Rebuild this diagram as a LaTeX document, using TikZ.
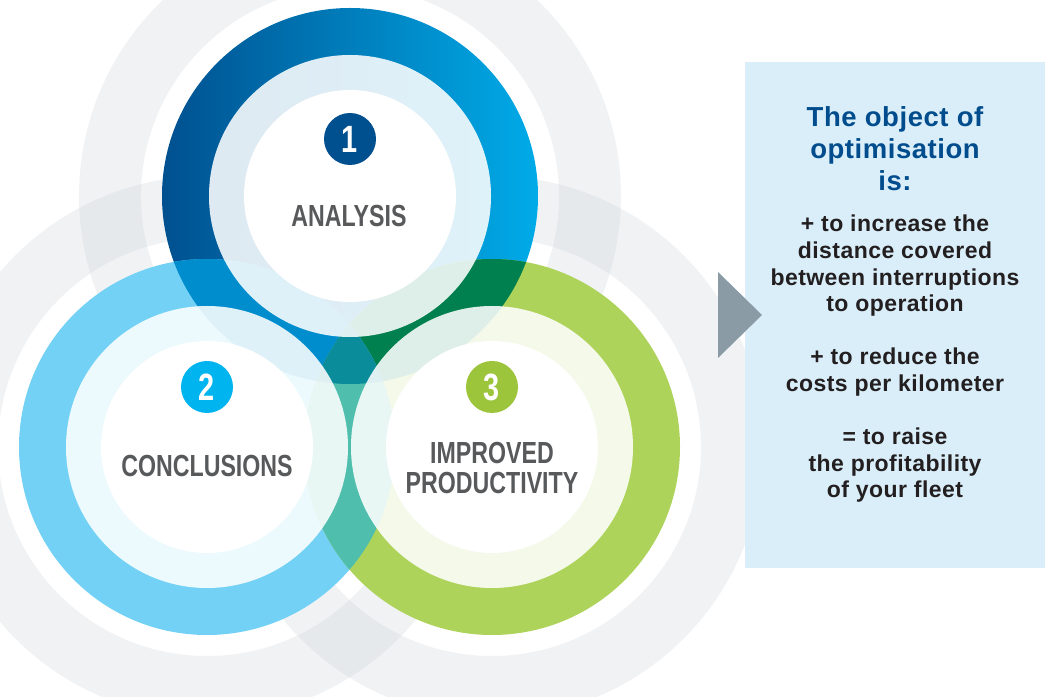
\documentclass[tikz,border=0pt]{standalone}
\usepackage{fontspec}
\setmainfont{Liberation Sans}
\newfontfamily\condsf[FakeStretch=0.76]{Liberation Sans}
\newfontfamily\boxsf[LetterSpace=2]{Liberation Sans}
\usepackage{tikz}
\usetikzlibrary{calc}
\usepackage{tkz-euclide}

\definecolor{ringgrey}{HTML}{C3CAD2}
\definecolor{blueL}{HTML}{00508F}
\definecolor{blueR}{HTML}{00ABE8}
\definecolor{skyblue}{HTML}{73D1F6}
\definecolor{limegreen}{HTML}{AED35A}
\definecolor{ovAB}{HTML}{008DCD}
\definecolor{ovAC}{HTML}{00804F}
\definecolor{ovBC}{HTML}{4FBEAD}
\definecolor{ovABC}{HTML}{0A8C9B}
\definecolor{badgeA}{HTML}{004F8F}
\definecolor{badgeB}{HTML}{00B5EF}
\definecolor{badgeC}{HTML}{9CC53C}
\definecolor{labelgrey}{HTML}{58595B}
\definecolor{boxblue}{HTML}{D9EEF9}
\definecolor{titleblue}{HTML}{004C8C}
\definecolor{bodyblack}{HTML}{231F20}
\definecolor{arrowgrey}{HTML}{8A9BA5}

\begin{document}
\begin{tikzpicture}[x=1pt,y=1pt,
        greyring/.style={fill=ringgrey,fill opacity=0.24,even odd rule},
        lightband/.style={fill=white,fill opacity=0.87},
        badge/.style={circle,minimum size=52pt,inner sep=0pt,text=white,
            font=\condsf\bfseries\fontsize{38}{38}\selectfont},
        stage/.style={text=labelgrey,align=center,
            font=\condsf\bfseries\fontsize{30.5}{30}\selectfont}]
        \useasboundingbox (0,0) rectangle (1049,696);
        \tkzDefPoints{350/500/A,207/249/B,492/249/C}
        \tkzDefPoints{350/557/a,207/309/b,492/309/c}
        \tkzDefPoints{718/424/T1,762/381/T2,718/338/T3}

        % grey halos
        \foreach \P in {A,B,C} \fill[greyring] (\P) circle (271) circle (209);

        % coloured discs and their overlaps
        \shade[left color=blueL,right color=blueR] (A) circle (188);
        \fill[skyblue] (B) circle (188);
        \fill[limegreen] (C) circle (188);
        \begin{scope} \clip (A) circle (188); \fill[ovAB] (B) circle (188); \fill[ovAC] (C) circle (188); \end{scope}
        \begin{scope} \clip (B) circle (188); \fill[ovBC] (C) circle (188); \end{scope}
        \begin{scope} \clip (A) circle (188); \clip (B) circle (188); \fill[ovABC] (C) circle (188); \end{scope}

        \foreach \P in {A,B,C} \fill[lightband] (\P) circle (141);
        \foreach \P in {A,B,C} \fill[white] (\P) circle (106);

        \node[badge,fill=badgeA] (nA) at (a) {1};
        \node[badge,fill=badgeB] (nB) at (b) {2};
        \node[badge,fill=badgeC] (nC) at (c) {3};

        \node[stage] (tA) at (349,480) {ANALYSIS};
        \node[stage] (tB) at (207,230) {CONCLUSIONS};
        \node[stage] (tC) at (492,228) {IMPROVED\\PRODUCTIVITY};

        % the object box
        \fill[boxblue] (745,128) rectangle (1045,634);
        \fill[arrowgrey] (T1) -- (T2) -- (T3) -- cycle;

        \node[text=titleblue,align=center,font=\boxsf\bfseries\fontsize{27.5}{32}\selectfont] (title) at (895,547)
            {The object of\\optimisation\\is:};
        \node[text=bodyblack,align=center,font=\boxsf\bfseries\fontsize{23}{26.6}\selectfont] (body) at (895,337)
            {+ to increase the\\distance covered\\between interruptions\\to operation\\[26.6pt]
             + to reduce the\\costs per kilometer\\[26.6pt]
             = to raise\\the profitability\\of your fleet};
\end{tikzpicture}
\end{document}
